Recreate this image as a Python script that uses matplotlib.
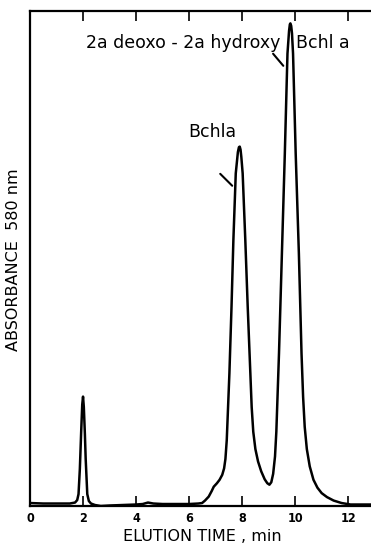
import matplotlib
matplotlib.use("Agg")
import matplotlib.pyplot as plt
import numpy as np

# traced chromatogram (elution time in min, absorbance in arbitrary units)
time_min = [0.0, 0.5, 1.0, 1.5, 1.7, 1.78, 1.83, 1.88, 1.93, 1.97, 2.0, 2.03, 2.07, 2.10, 2.16, 2.22, 2.3,
            2.45, 2.67, 3.0, 3.5, 4.0, 4.25, 4.45, 4.65, 5.0, 5.5, 6.0, 6.35, 6.49, 6.6, 6.74, 6.85,
            6.93, 7.05, 7.15, 7.25, 7.32, 7.37, 7.42, 7.52, 7.60, 7.67, 7.76, 7.84, 7.88, 7.91, 7.94,
            7.97, 8.02, 8.12, 8.21, 8.31, 8.36, 8.42, 8.50, 8.60, 8.72, 8.85, 8.95, 9.03, 9.10, 9.17,
            9.24, 9.29, 9.39, 9.50, 9.61, 9.71, 9.77, 9.80, 9.82, 9.85, 9.88, 9.92, 10.02, 10.14,
            10.24, 10.30, 10.36, 10.44, 10.55, 10.69, 10.84, 11.0, 11.2, 11.45,
            11.75, 12.09, 12.5, 13.0]
absorbance = [0.6, 0.5, 0.5, 0.5, 0.7, 1.2, 2.4, 7.5, 15.0, 20.5, 22.1, 20.0, 14.5, 9.5, 2.4, 1.0, 0.5,
              0.2, 0.0, 0.1, 0.2, 0.3, 0.4, 0.7, 0.5, 0.4, 0.4, 0.4, 0.5, 0.6, 1.1, 1.9, 3.0,
              3.9, 4.6, 5.3, 6.3, 7.6, 9.5, 13.3, 26.8, 40.3, 53.7, 67.2, 71.5, 72.5, 72.6, 72.0,
              70.5, 67.2, 53.7, 40.3, 26.8, 20.0, 15.0, 11.5, 9.0, 7.0, 5.4, 4.6, 4.3, 4.8, 6.5,
              10.0, 15.0, 30.8, 51.0, 71.2, 91.4, 96.0, 97.3, 97.5, 97.0, 95.5, 91.4, 71.2, 51.0,
              30.8, 22.0, 16.0, 11.5, 8.0, 5.3, 3.7, 2.6, 1.8, 1.1,
              0.6, 0.3, 0.3, 0.3]

xticks = [0, 2, 4, 6, 8, 10, 12]
xtick_labels = ["0", "2", "4", "6", "8", "10", "12"]

W, H = 371, 549
fig = plt.figure(figsize=(W / 100, H / 100), dpi=100)
ax = fig.add_axes([30 / W, 1 - 506 / H, 1 - 30 / W + 0.01, 495 / H])

ax.plot(time_min, absorbance, color="black", lw=1.8, solid_joinstyle="round")
ax.set_xlim(0, 13)
ax.set_ylim(0, 100)

for s in ["left", "bottom", "top"]:
    ax.spines[s].set_linewidth(1.6)
ax.spines["right"].set_visible(False)

ax.set_yticks([])
ax.set_xticks(xticks)
ax.set_xticklabels(xtick_labels, fontsize=9, fontweight="bold",
                   family=["DejaVu Sans"], fontstretch="condensed")
ax.tick_params(axis="x", direction="in", length=7, width=1.2, top=True, pad=4)

ax.set_xlabel("ELUTION TIME , min", fontsize=11.5, labelpad=3)
fig.text(14 / W, 1 - 260 / H, "ABSORBANCE  580 nm", rotation=90, fontsize=11.5,
         ha="center", va="center")

ax.text(2.1, 93.5, "2a deoxo - 2a hydroxy", fontsize=12.5, ha="left", va="center")
ax.text(10.05, 93.5, "Bchl a", fontsize=12.5, ha="left", va="center")
ax.text(7.8, 75.5, "Bchla", fontsize=12.5, ha="right", va="center")

ax.annotate("", xy=(9.62, 88.5), xytext=(9.1, 91.8),
            arrowprops=dict(arrowstyle="-", lw=1.5, color="black"))
ax.annotate("", xy=(7.7, 64.3), xytext=(7.1, 67.5),
            arrowprops=dict(arrowstyle="-", lw=1.5, color="black"))

fig.savefig("out.png", dpi=100)
